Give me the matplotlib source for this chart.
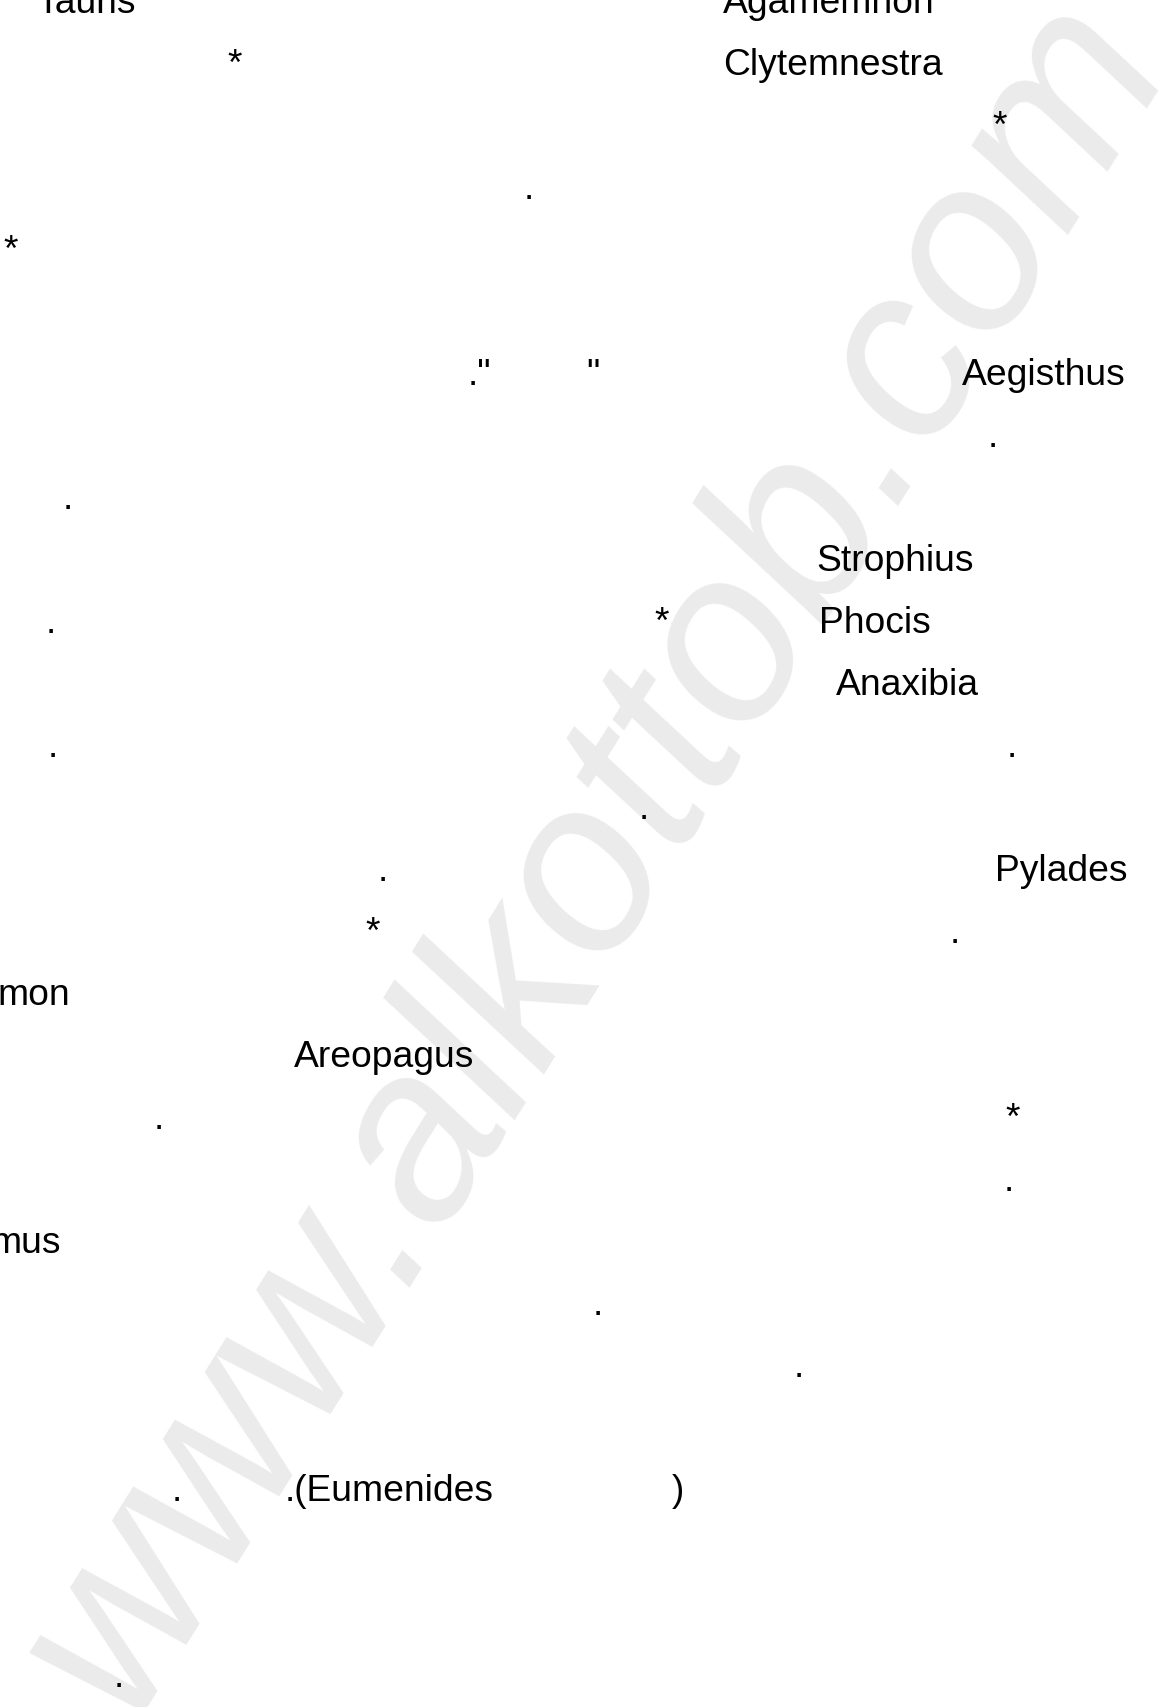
import matplotlib
matplotlib.use("Agg")
import matplotlib.pyplot as plt

# ---- page content (Latin fragments of a page whose Arabic text is absent) ----
texts = ["Tauris", "Agamemnon", "*", "Clytemnestra", "*", ".", "*",
         ".\"", "\"", "Aegisthus", ".", ".", "Strophius",
         ".", "*", "Phocis", "Anaxibia", ".", ".", ".",
         ".", "Pylades", "*", ".", "mon", "Areopagus",
         ".", "*", ".", "mus", ".", ".",
         ".", ".(Eumenides", ")", "."]
text_x = [36, 723, 235, 723, 1000, 529, 11,
          468, 593, 962, 993, 68, 816,
          51, 662, 819, 836, 53, 1012, 644,
          383, 995, 373, 955, 70, 294,
          159, 1013, 1009, 61, 598, 799,
          177, 285, 678, 119]
text_line = [0, 0, 1, 1, 2, 3, 4,
             6, 6, 6, 7, 8, 9,
             10, 10, 10, 11, 12, 12, 13,
             14, 14, 15, 15, 16, 17,
             18, 18, 19, 20, 21, 22,
             24, 24, 24, 27]
text_ha = ["left", "left", "center", "left", "center", "center", "center",
           "left", "center", "left", "center", "center", "left",
           "center", "center", "left", "left", "center", "center", "center",
           "center", "left", "center", "center", "right", "left",
           "center", "center", "center", "right", "center", "center",
           "center", "left", "center", "center"]

watermark = "www.alkottob.com"

W, H = 1164, 1707
fig = plt.figure(figsize=(W / 100, H / 100), dpi=100)
ax = fig.add_axes([0, 0, 1, 1])
ax.set_xlim(0, W)
ax.set_ylim(H, 0)
ax.axis("off")

FONT = ["Liberation Sans", "DejaVu Sans"]
first_baseline = 13
line_gap = 62

# watermark
ax.text(127, 1721, watermark, rotation=58, rotation_mode="anchor",
        ha="left", va="baseline", fontsize=175.6, fontstyle="italic",
        family=FONT, color="#ebebeb", zorder=0)

for t, x, ln, ha in zip(texts, text_x, text_line, text_ha):
    ax.text(x, first_baseline + line_gap * ln, t, ha=ha, va="baseline",
            fontsize=26.8, family=FONT, color="black", zorder=2)

fig.savefig("out.png", dpi=100)
